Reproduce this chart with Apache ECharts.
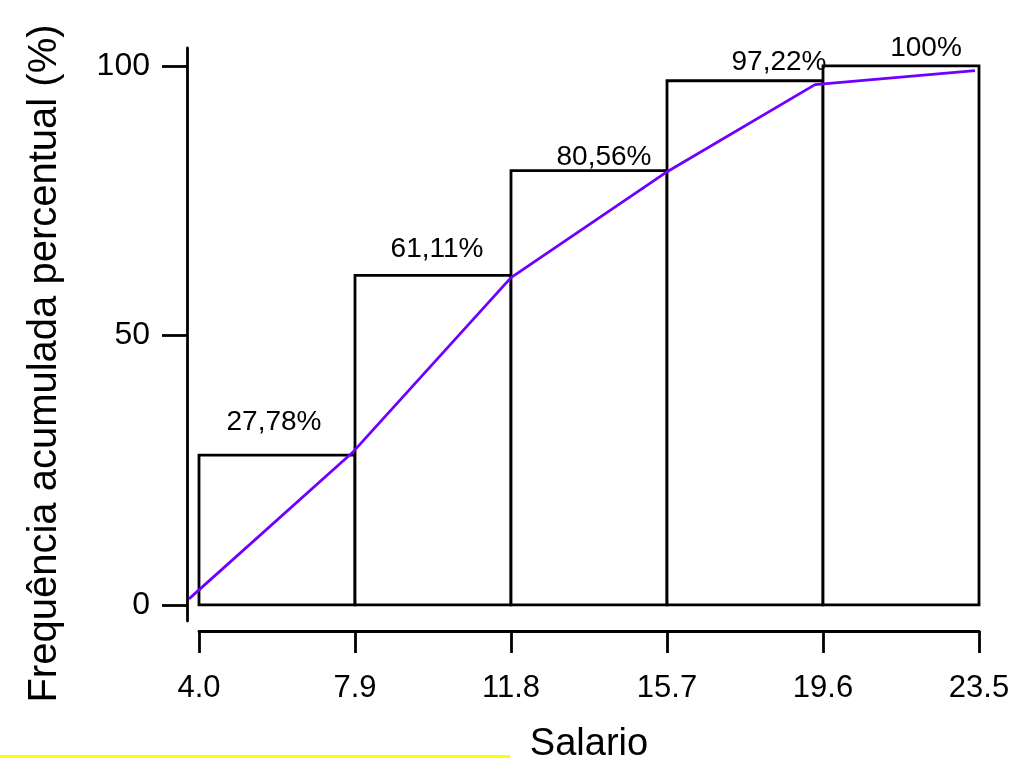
<!DOCTYPE html>
<html><head><meta charset="utf-8">
<script src="https://cdn.jsdelivr.net/npm/echarts@6/dist/echarts.min.js"></script>
<style>html,body{margin:0;padding:0;background:#fff}#c{width:1010px;height:758px}</style>
</head><body><div id="c"></div>
<script>
const classBreaks = [4.0, 7.9, 11.8, 15.7, 19.6, 23.5];
const xTickLabels = ['4.0', '7.9', '11.8', '15.7', '19.6', '23.5'];
const cumPercent = [27.78, 61.11, 80.56, 97.22, 100];
const barLabels = ['27,78%', '61,11%', '80,56%', '97,22%', '100%'];
const labelAnchorX = [5.875, 9.95, 14.125, 18.5, 22.175];
const labelAnchorY = [33.8, 65.9, 83.1, 100.7, 103.3];
const ogiveX = [3.75, 7.83, 11.8, 15.65, 19.4, 23.4];
const ogiveY = [1.1, 28.2, 60.7, 80.1, 96.5, 99.1];
const yTicks = [0, 50, 100];

const FONT = "'Liberation Sans', Arial, Helvetica, sans-serif";
const chart = echarts.init(document.getElementById('c'), null, {renderer: 'canvas'});

const barData = cumPercent.map((v, i) => [classBreaks[i], classBreaks[i + 1], v]);
const labelData = labelAnchorX.map((x, i) => [x, labelAnchorY[i], barLabels[i]]);
const lineData = ogiveX.map((x, i) => [x, ogiveY[i]]);

const GRID_TOP = 48, GRID_BOTTOM = 137, GRID_RIGHT = 31, GRID_LEFT = 199;
const Y_MIN = -3.0, Y_MAX = 103.3;

chart.setOption({
  animation: false,
  backgroundColor: '#fff',
  textStyle: {fontFamily: FONT},
  grid: [
    {left: GRID_LEFT, right: GRID_RIGHT, top: GRID_TOP, bottom: GRID_BOTTOM, containLabel: false, outerBoundsMode: 'none'},
    {left: GRID_LEFT - 20, right: GRID_RIGHT, top: GRID_TOP, bottom: GRID_BOTTOM, containLabel: false, outerBoundsMode: 'none'}
  ],
  xAxis: [{
    type: 'value', gridIndex: 0, min: 4.0, max: 23.5, offset: 10,
    name: 'Salario', nameLocation: 'middle', nameGap: 95,
    nameTextStyle: {fontSize: 38, color: '#000', fontFamily: FONT},
    axisLine: {show: true, onZero: false, lineStyle: {color: '#000', width: 2.8}},
    axisTick: {show: true, length: 22, lineStyle: {color: '#000', width: 2.8}, customValues: classBreaks},
    axisLabel: {show: true, margin: 42, fontSize: 31, color: '#000', fontFamily: FONT,
      customValues: classBreaks,
      formatter: v => { const i = classBreaks.findIndex(b => Math.abs(b - v) < 1e-6); return i >= 0 ? xTickLabels[i] : ''; }},
    splitLine: {show: false}
  }, {
    type: 'value', gridIndex: 1, min: 3.5, max: 23.5, show: false
  }],
  yAxis: [{
    type: 'value', gridIndex: 0, min: Y_MIN, max: Y_MAX, offset: 12,
    name: 'Frequência acumulada percentual (%)', nameLocation: 'middle', nameGap: 122, nameRotate: 90,
    nameTextStyle: {fontSize: 40, color: '#000', fontFamily: FONT, padding: [0, 58, 0, 0]},
    axisLine: {show: true, onZero: false, lineStyle: {color: '#000', width: 2.8}},
    axisTick: {show: true, length: 25, lineStyle: {color: '#000', width: 2.8}, customValues: yTicks},
    axisLabel: {show: true, margin: 37, fontSize: 32, color: '#000', fontFamily: FONT, customValues: yTicks},
    splitLine: {show: false}
  }, {
    type: 'value', gridIndex: 1, min: Y_MIN, max: Y_MAX, show: false
  }],
  series: [
    {
      type: 'custom', xAxisIndex: 0, yAxisIndex: 0, data: barData, clip: false, z: 2,
      encode: {x: [0, 1], y: 2},
      renderItem(params, api) {
        const p0 = api.coord([api.value(0), 0]);
        const p1 = api.coord([api.value(1), api.value(2)]);
        return {type: 'rect', shape: {x: p0[0], y: p1[1], width: p1[0] - p0[0], height: p0[1] - p1[1]},
          style: {fill: '#fff', stroke: '#000', lineWidth: 2.8}};
      }
    },
    {
      type: 'line', xAxisIndex: 1, yAxisIndex: 1, data: lineData, clip: false, z: 4, symbol: 'none', smooth: false,
      lineStyle: {color: '#6f00ff', width: 2.8}
    },
    {
      type: 'scatter', xAxisIndex: 0, yAxisIndex: 0, data: labelData, z: 5, symbolSize: 0, clip: false, silent: true,
      itemStyle: {opacity: 1},
      label: {show: true, position: 'inside', color: '#000', opacity: 1, fontSize: 28, fontFamily: FONT,
        formatter: p => p.data[2]}
    }
  ],
  graphic: [
    {type: 'rect', left: 0, top: 755, shape: {width: 510, height: 3}, style: {fill: '#ffff00'}, silent: true}
  ]
});
</script></body></html>
